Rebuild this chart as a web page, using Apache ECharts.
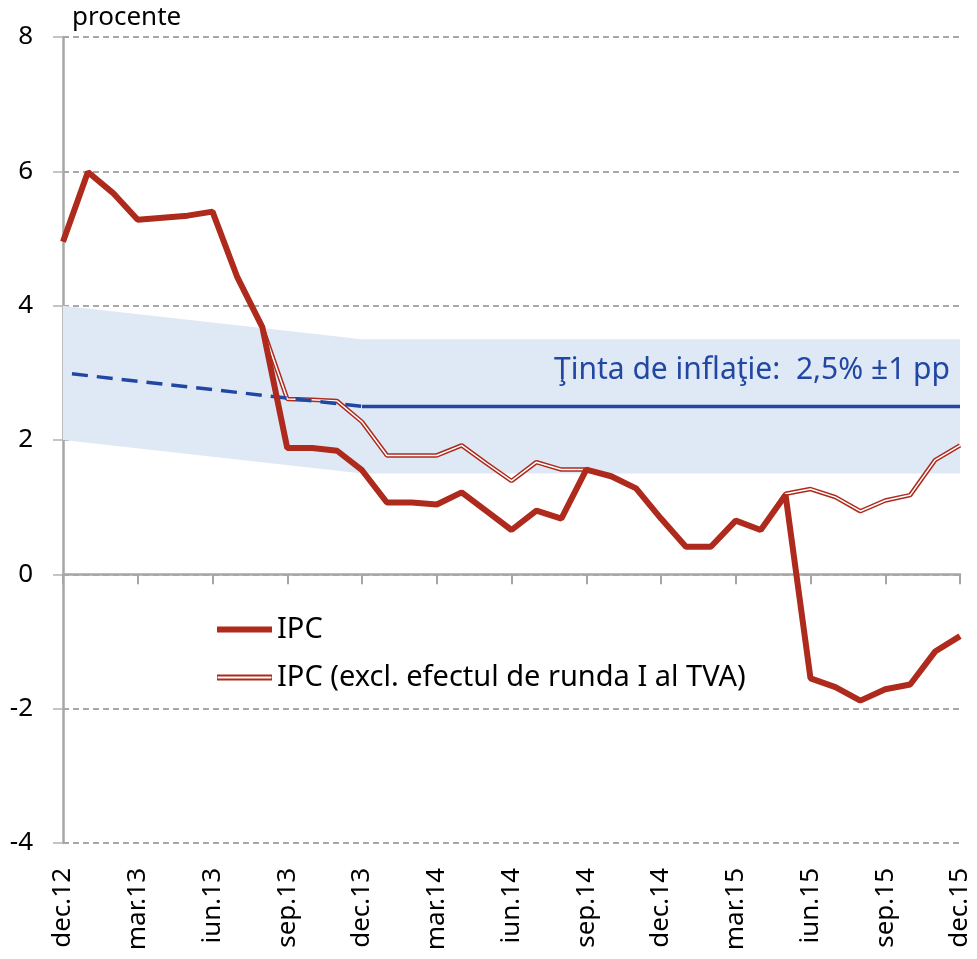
<!DOCTYPE html>
<html>
<head>
<meta charset="utf-8">
<script src="https://cdn.jsdelivr.net/npm/echarts@6/dist/echarts.min.js"></script>
<style>
html,body{margin:0;padding:0;background:#fff;}
#chart{width:977px;height:959px;}
</style>
</head>
<body>
<div id="chart"></div>
<script>
const categories = ['dec.12','ian.13','feb.13','mar.13','apr.13','mai.13','iun.13','iul.13','aug.13','sep.13','oct.13','noi.13',
  'dec.13','ian.14','feb.14','mar.14','apr.14','mai.14','iun.14','iul.14','aug.14','sep.14','oct.14','noi.14',
  'dec.14','ian.15','feb.15','mar.15','apr.15','mai.15','iun.15','iul.15','aug.15','sep.15','oct.15','noi.15','dec.15'];

const ipc = [4.95, 5.99, 5.68, 5.28, 5.31, 5.34, 5.40, 4.42, 3.68, 1.88, 1.88, 1.84,
  1.55, 1.07, 1.07, 1.04, 1.22, 0.94, 0.66, 0.95, 0.83, 1.56, 1.46, 1.28,
  0.83, 0.41, 0.41, 0.80, 0.66, 1.18, -1.55, -1.68, -1.88, -1.71, -1.64, -1.15, -0.92];

const ipcExcl = [null, null, null, null, null, null, null, null, 3.68, 2.61, 2.60, 2.58,
  2.27, 1.77, 1.77, 1.77, 1.92, 1.65, 1.39, 1.67, 1.56, 1.56, 1.46, 1.28,
  0.83, 0.41, 0.41, 0.80, 0.66, 1.20, 1.27, 1.15, 0.94, 1.10, 1.18, 1.70, 1.92];

// inflation target (central value) and tolerance band
const targetDashCats = ['dec.12', 'dec.13'];
const targetDashVals = [3.0, 2.5];
const targetFlatCats = ['dec.13', 'dec.15'];
const targetFlatVals = [2.5, 2.5];
const bandCats = ['dec.12', 'dec.13', 'dec.15'];
const bandLow = [2.0, 1.5, 1.5];
const bandHigh = [4.0, 3.5, 3.5];

const yTicks = {min: -4, max: 8, interval: 2};

const RED = '#ae2a1c';
const BLUE = '#2147a3';
const FONT = 'Noto Sans';

const chart = echarts.init(document.getElementById('chart'), null, {renderer: 'canvas'});

const option = {
  animation: false,
  backgroundColor: '#fff',
  textStyle: {fontFamily: FONT},
  grid: {left: 63, right: 17, top: 37, bottom: 116, containLabel: false},
  legend: {
    orient: 'vertical',
    left: 212,
    top: 610,
    itemWidth: 55,
    itemHeight: 6,
    itemGap: 19,
    textStyle: {fontFamily: FONT, fontSize: 29, color: '#000'},
    data: [
      {name: 'IPC', icon: 'rect'},
      {name: 'IPC (excl. efectul de runda I al TVA)', icon: 'path://M0,0H55V6H0Z M0.6,2V4H54.4V2Z'}
    ]
  },
  xAxis: [
    {
      type: 'category',
      data: categories,
      boundaryGap: false,
      position: 'bottom',
      axisLine: {show: true, onZero: true, lineStyle: {color: '#a6a6a6', width: 2.5}},
      axisTick: {show: true, interval: 2, length: 10, inside: false, lineStyle: {color: '#a6a6a6', width: 2}},
      axisLabel: {show: false},
      splitLine: {show: false}
    },
    {
      type: 'category',
      data: categories,
      boundaryGap: false,
      position: 'bottom',
      axisLine: {show: false, onZero: false},
      axisTick: {show: false},
      axisLabel: {show: true, interval: 2, rotate: 90, margin: 25, fontSize: 26, fontFamily: FONT, color: '#000'},
      splitLine: {show: false}
    }
  ],
  yAxis: {
    type: 'value',
    min: yTicks.min,
    max: yTicks.max,
    interval: yTicks.interval,
    axisLine: {show: true, lineStyle: {color: '#a6a6a6', width: 2.5}},
    axisTick: {show: true, length: 10, inside: false, lineStyle: {color: '#b3b3b3', width: 1.5}},
    axisLabel: {fontSize: 26, fontFamily: FONT, color: '#000', margin: 30},
    splitLine: {show: true, lineStyle: {color: '#8c8c8c', width: 1.5, type: [6, 4]}}
  },
  graphic: [
    {type: 'text', left: 72, top: 5, z: 100, style: {text: 'procente', fontSize: 26, fontFamily: FONT, fill: '#000'}},
    {type: 'text', right: 27, top: 355, z: 100, style: {text: 'Ţinta de inflaţie:  2,5% ±1 pp', fontSize: 30, fontFamily: FONT, fill: BLUE}}
  ],
  series: [
    {
      name: 'band',
      type: 'custom',
      xAxisIndex: 0,
      silent: true,
      data: bandCats.map((c, i) => [categories.indexOf(c), bandLow[i], bandHigh[i]]),
      encode: {x: 0, y: [1, 2]},
      renderItem: function (params, api) {
        if (params.dataIndex !== 0) return null;
        const pts = [];
        for (let i = 0; i < bandCats.length; i++) {
          pts.push(api.coord([categories.indexOf(bandCats[i]), bandHigh[i]]));
        }
        for (let i = bandCats.length - 1; i >= 0; i--) {
          pts.push(api.coord([categories.indexOf(bandCats[i]), bandLow[i]]));
        }
        return {type: 'polygon', shape: {points: pts}, style: {fill: '#dfe9f6'}};
      },
      z: 1
    },
    {
      name: 'IPC (excl. efectul de runda I al TVA)',
      type: 'line',
      xAxisIndex: 0,
      data: ipcExcl,
      showSymbol: false,
      symbol: 'none',
      color: RED,
      lineStyle: {color: RED, width: 4.5},
      z: 3
    },
    {
      name: 'excl_inner',
      type: 'line',
      xAxisIndex: 0,
      data: ipcExcl,
      showSymbol: false,
      symbol: 'none',
      silent: true,
      color: '#fff',
      lineStyle: {color: '#fff', width: 1.5},
      z: 3
    },
    {
      name: 'targetDash',
      type: 'line',
      xAxisIndex: 0,
      data: targetDashCats.map((c, i) => [c, targetDashVals[i]]),
      showSymbol: false,
      symbol: 'none',
      silent: true,
      lineStyle: {color: BLUE, width: 3.5, type: [16, 9], dashOffset: 16},
      z: 4
    },
    {
      name: 'targetFlat',
      type: 'line',
      xAxisIndex: 0,
      data: targetFlatCats.map((c, i) => [c, targetFlatVals[i]]),
      showSymbol: false,
      symbol: 'none',
      silent: true,
      lineStyle: {color: BLUE, width: 3.5},
      z: 4
    },
    {
      name: 'IPC',
      type: 'line',
      xAxisIndex: 0,
      data: ipc,
      showSymbol: false,
      symbol: 'none',
      color: RED,
      lineStyle: {color: RED, width: 6},
      z: 5
    }
  ]
};
chart.setOption(option);
</script>
</body>
</html>
